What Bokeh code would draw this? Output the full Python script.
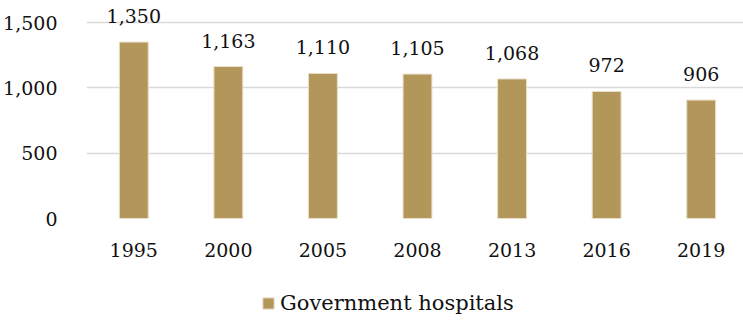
from bokeh.plotting import figure
from bokeh.layouts import column
from bokeh.models import ColumnDataSource, Range1d, FixedTicker, NumeralTickFormatter, Legend, LegendItem
from bokeh.core.properties import value
from bokeh.embed import file_html
from bokeh.resources import INLINE

years = ["1995", "2000", "2005", "2008", "2013", "2016", "2019"]
hospitals = [1350, 1163, 1110, 1105, 1068, 972, 906]
series_name = "Government hospitals"
y_ticks = [0, 500, 1000, 1500]

FONT = "DejaVu Serif"
FS = "19px"
BAR = "#B3975A"
TXT = "#111111"

xs = list(range(len(years)))
src = ColumnDataSource(dict(
    x=xs,
    y=hospitals,
    lab=[f"{v:,}" for v in hospitals],
))

p = figure(width=743, height=275, output_backend="svg", toolbar_location=None,
           x_range=Range1d(-0.5, -0.5 + 660 / 95), y_range=Range1d(0, 1500 * 218 / 196),
           min_border_left=83, min_border_right=0, min_border_top=0, min_border_bottom=57)
p.outline_line_color = None
p.background_fill_color = "white"
p.border_fill_color = "white"

r = p.vbar(x="x", top="y", width=0.305, source=src, fill_color=BAR, line_color="#E8DDC6", line_width=1)
p.text(x="x", y="y", text="lab", source=src, text_align="center", text_baseline="alphabetic",
       y_offset=-26, text_font=value(FONT), text_font_size=FS, text_color=TXT)

p.xgrid.grid_line_color = None
p.ygrid.grid_line_color = "#D9D9D9"
p.ygrid.grid_line_width = 1.5
p.ygrid.ticker = FixedTicker(ticks=y_ticks)

p.yaxis.ticker = FixedTicker(ticks=y_ticks)
p.yaxis.formatter = NumeralTickFormatter(format="0,0")
p.yaxis.axis_line_color = None
p.yaxis.major_tick_line_color = None
p.yaxis.minor_tick_line_color = None
p.yaxis.major_label_standoff = 23
p.yaxis.major_label_text_font = FONT
p.yaxis.major_label_text_font_size = FS
p.yaxis.major_label_text_color = TXT

p.xaxis.ticker = FixedTicker(ticks=xs)
p.xaxis.major_label_overrides = {i: y for i, y in zip(xs, years)}
p.xaxis.axis_line_color = None
p.xaxis.major_tick_line_color = None
p.xaxis.minor_tick_line_color = None
p.xaxis.major_label_standoff = 18
p.xaxis.major_label_text_font = FONT
p.xaxis.major_label_text_font_size = FS
p.xaxis.major_label_text_color = TXT

# legend strip below the chart (bars of the proxy lie outside its visible range)
lg = figure(width=743, height=46, output_backend="svg", toolbar_location=None,
            x_range=Range1d(100, 101), y_range=Range1d(5000, 5001),
            x_axis_location=None, y_axis_location=None,
            min_border_left=0, min_border_right=0, min_border_top=0, min_border_bottom=0)
lg.outline_line_color = None
lg.xgrid.grid_line_color = None
lg.ygrid.grid_line_color = None
proxy = lg.vbar(x="x", top="y", width=0.305, source=src, fill_color=BAR, line_color="#E8DDC6", line_width=1)

legend = Legend(items=[LegendItem(label=series_name, renderers=[proxy])], location=(175, 6),
                orientation="horizontal", border_line_color=None, background_fill_alpha=0,
                glyph_width=14, glyph_height=14, label_standoff=5, label_height=20,
                label_text_font=FONT, label_text_font_size="21px", label_text_color=TXT,
                label_text_baseline="middle", margin=0, padding=0)
lg.add_layout(legend)

layout = column(p, lg, spacing=0)
open("out.html", "w").write(file_html(layout, INLINE))
